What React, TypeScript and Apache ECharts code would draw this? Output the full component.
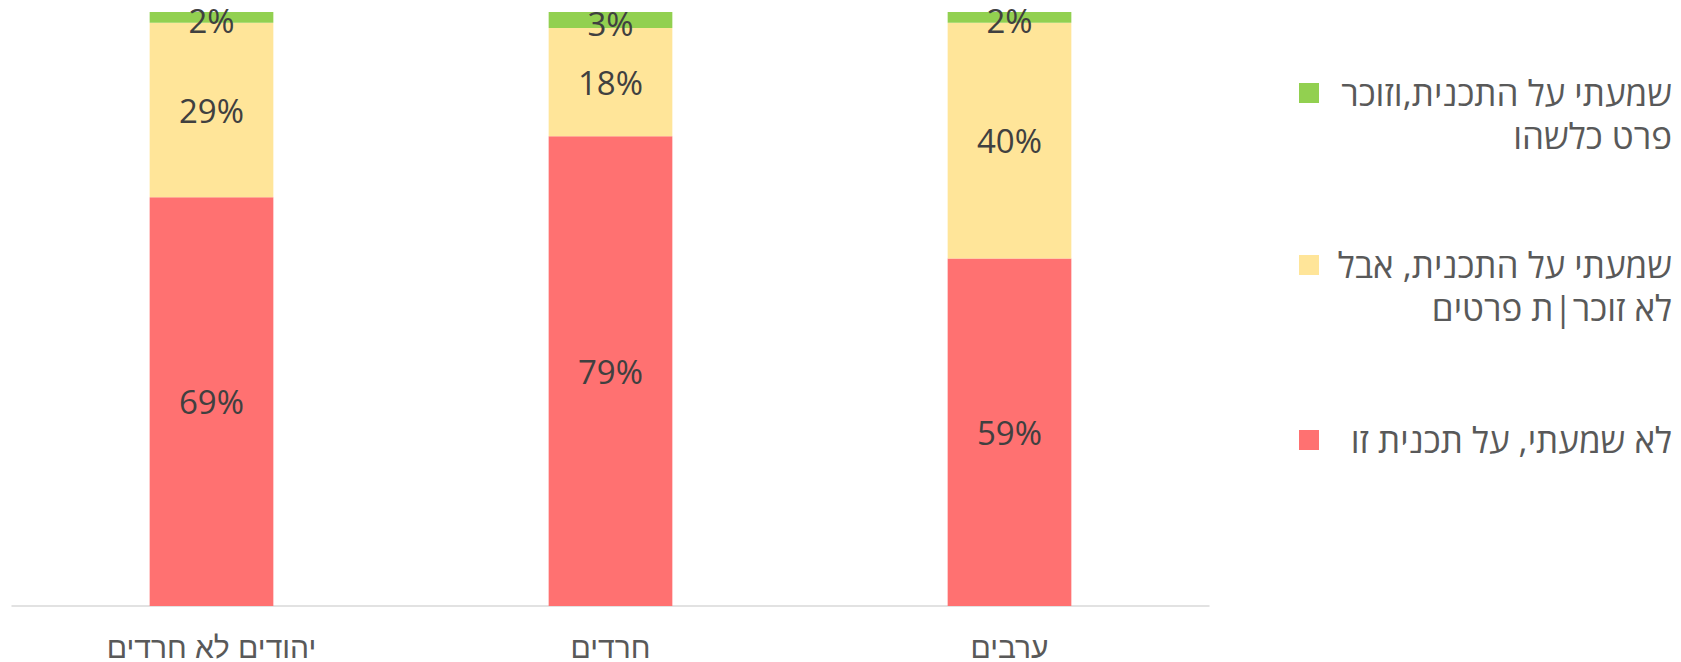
import React, { useEffect, useRef } from "react";
import * as echarts from "echarts";

const categories = ["יהודים לא חרדים", "חרדים", "ערבים"];
const notHeard = [68.8, 79.1, 58.5];
const heardNoDetails = [29.4, 18.2, 39.7];
const heardRemember = [1.8, 2.7, 1.8];
const seriesNames = [
  "לא שמעתי, על תכנית זו",
  "שמעתי על התכנית, אבל\nלא זוכר|ת פרטים",
  "שמעתי על התכנית,וזוכר\nפרט כלשהו",
];
const colors = ["#FF7171", "#FFE599", "#92D050"];

export default function App() {
  const ref = useRef<HTMLDivElement>(null);
  useEffect(() => {
    if (!ref.current) return;
    const chart = echarts.init(ref.current, null, { renderer: "svg" });
    const labelFont = "'Liberation Sans Narrow', 'Open Sans', 'DejaVu Sans', sans-serif";
    const mk = (name: string, data: number[], color: string, offsetY: number) => ({
      name,
      type: "bar",
      stack: "total",
      data,
      barWidth: "31%",
      itemStyle: { color },
      label: {
        show: true,
        position: "inside",
        offset: [0, offsetY],
        color: "#404040",
        fontSize: 33,
        lineHeight: 30,
        fontFamily: labelFont,
        formatter: (p: any) => Math.round(p.value) + "%",
      },
    });
    const series = [
      mk(seriesNames[0], notHeard, colors[0], 0),
      mk(seriesNames[1], heardNoDetails, colors[1], 0),
      mk(seriesNames[2], heardRemember, colors[2], 3),
    ];
    const legendRows = [
      { idx: 2, cy: 93 },
      { idx: 1, cy: 265 },
      { idx: 0, cy: 440 },
    ];
    const graphic: any[] = [];
    legendRows.forEach((r) => {
      graphic.push({
        type: "rect",
        shape: { x: 1299, y: r.cy - 10, width: 20, height: 20 },
        style: { fill: colors[r.idx] },
      });
      graphic.push({
        type: "text",
        style: {
          text: seriesNames[r.idx],
          x: 1672,
          y: r.cy - 22,
          align: "right",
          verticalAlign: "top",
          lineHeight: 43,
          fontSize: 35,
          fontFamily: "'Open Sans', 'DejaVu Sans', sans-serif",
          fill: "#595959",
        },
      });
    });
    chart.setOption({
      animation: false,
      grid: { left: 12, right: 472, top: 12, bottom: 56, containLabel: false },
      xAxis: {
        type: "category",
        data: categories,
        axisLine: { lineStyle: { color: "#D9D9D9", width: 1.5 } },
        axisTick: { show: false },
        axisLabel: {
          color: "#595959",
          fontSize: 30,
          margin: 26,
          fontFamily: "'Liberation Sans Narrow', 'Liberation Sans', 'DejaVu Sans', sans-serif",
        },
      },
      yAxis: { type: "value", min: 0, max: 100, show: false, splitLine: { show: false } },
      series,
      graphic,
    });
    return () => chart.dispose();
  }, []);
  return (
    <div
      ref={ref}
      style={{ position: "absolute", left: 0, top: 0, width: 1681, height: 662 }}
    />
  );
}
